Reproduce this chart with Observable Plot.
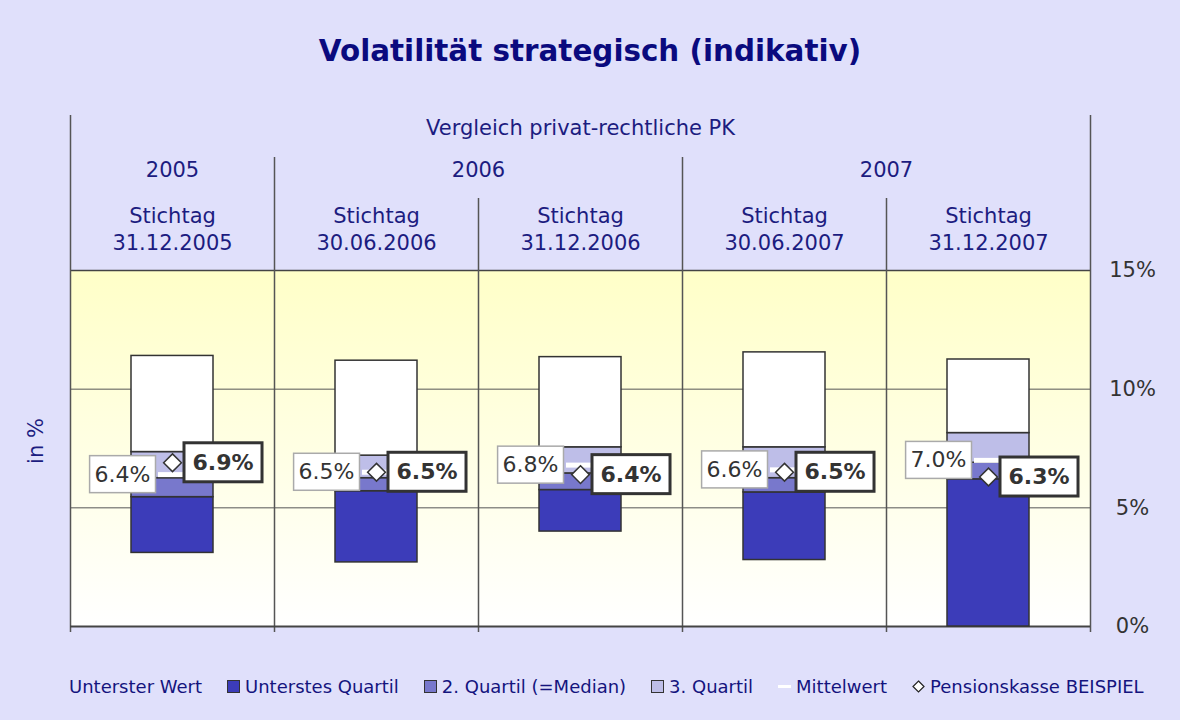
<!DOCTYPE html>
<html><head><meta charset="utf-8">
<script src="https://cdn.jsdelivr.net/npm/d3@7"></script>
<script src="https://cdn.jsdelivr.net/npm/@observablehq/plot@0.6"></script>
<style>
html,body{margin:0;padding:0;background:#e0e0fb;width:1180px;height:720px;overflow:hidden;font-family:"DejaVu Sans",Verdana,sans-serif;}
#title{position:absolute;left:0;width:1180px;top:34px;text-align:center;font-weight:bold;font-size:29.4px;color:#0a0a7e;}
#chart{position:absolute;left:0;top:100px;}
#ylab{position:absolute;left:36px;top:441px;transform:translate(-50%,-50%) rotate(-90deg);font-size:21px;color:#1c1c80;white-space:nowrap;}
#legend{position:absolute;left:69px;top:676px;display:flex;gap:25px;font-size:18px;color:#14147e;white-space:nowrap;align-items:center;}
#legend .item{display:flex;align-items:center;gap:5px;}
#legend svg{display:block;}
</style>
</head><body>
<div id="title"></div>
<div id="chart"></div>
<div id="ylab"></div>
<div id="legend"></div>
<script>
// ---- data ----
const titleText = "Volatilität strategisch (indikativ)";
const groupTitle = "Vergleich privat-rechtliche PK";
const yAxisLabel = "in %";
const dates = ["31.12.2005", "30.06.2006", "31.12.2006", "30.06.2007", "31.12.2007"];
const stichtag = "Stichtag";
const years = ["2005", "2006", "2007"];
const yearSpans = [[0, 1], [1, 3], [3, 5]];
const minVals    = [3.1, 2.7, 4.0, 2.8, 0.0];
const q1Vals     = [5.45, 5.7, 5.75, 5.65, 6.2];
const medianVals = [6.25, 6.25, 6.45, 6.25, 6.9];
const q3Vals     = [7.35, 7.2, 7.55, 7.55, 8.15];
const maxVals    = [11.4, 11.2, 11.35, 11.55, 11.25];
const meanVals   = [6.4, 6.5, 6.8, 6.6, 7.0];
const pkVals     = [6.9, 6.5, 6.4, 6.5, 6.3];
const yTicks = [0, 5, 10, 15];
const seriesNames = ["Unterstes Quartil", "2. Quartil (=Median)", "3. Quartil", "Oberstes Quartil"];
const seriesColors = ["#3c3cb9", "#7878cc", "#bebee8", "#ffffff"];
const legendNames = ["Unterster Wert", "Unterstes Quartil", "2. Quartil (=Median)", "3. Quartil", "Mittelwert", "Pensionskasse BEISPIEL"];

// ---- derived tables ----
const n = dates.length;
const idx = d3.range(n);
const segs = [];
idx.forEach(i => {
  const b = [minVals[i], q1Vals[i], medianVals[i], q3Vals[i], maxVals[i]];
  for (let k = 0; k < 4; k++) segs.push({i, y1: b[k], y2: b[k + 1], s: seriesNames[k]});
});
const outerBounds = [0, n];
const yearBounds = yearSpans.map(s => s[0]).filter(b => b > 0);
const innerBounds = d3.range(1, n).filter(b => !yearBounds.includes(b));
const yearRows = years.map((y, k) => ({x: (yearSpans[k][0] + yearSpans[k][1]) / 2, t: y}));
const dateRows = idx.map(i => ({x: i + 0.5, t: stichtag + "\n" + dates[i]}));
const groupRows = [{x: n / 2, t: groupTitle}];

document.getElementById("title").textContent = titleText;
document.getElementById("ylab").textContent = yAxisLabel;

const navy = "#1c1c80";
const headerOpts = {x: "x", text: "t", frameAnchor: "top", lineAnchor: "middle", fontSize: 21, fill: navy};
const plot = Plot.plot({
  width: 1180,
  height: 546,
  marginTop: 170,
  marginBottom: 20,
  marginLeft: 70,
  marginRight: 90,
  style: {fontFamily: "'DejaVu Sans', Verdana, sans-serif", background: "transparent", overflow: "visible"},
  x: {domain: [0, n], axis: null},
  y: {domain: [0, 15], axis: null},
  color: {domain: seriesNames, range: seriesColors},
  marks: [
    Plot.frame({fill: "url(#bgGrad)", stroke: "none"}),
    Plot.ruleY([5, 10], {stroke: "#555", strokeWidth: 1}),
    Plot.ruleY([15], {stroke: "#444", strokeWidth: 1.5}),
    Plot.ruleX(outerBounds, {y1: 15, y2: 0, insetTop: -155, insetBottom: -6, stroke: "#555", strokeWidth: 1.5}),
    Plot.ruleX(yearBounds, {y1: 15, y2: 0, insetTop: -113, insetBottom: -6, stroke: "#555", strokeWidth: 1.5}),
    Plot.ruleX(innerBounds, {y1: 15, y2: 0, insetTop: -72, insetBottom: -6, stroke: "#555", strokeWidth: 1.5}),
    Plot.ruleY([0], {stroke: "#444", strokeWidth: 2}),
    Plot.text(groupRows, {...headerOpts, dy: -142}),
    Plot.text(yearRows, {...headerOpts, dy: -100}),
    Plot.text(dateRows, {...headerOpts, dy: -43, lineHeight: 1.29}),
    Plot.rect(segs, {x1: d => d.i, x2: d => d.i + 1, y1: "y1", y2: "y2", fill: "s", stroke: "#333", strokeWidth: 1.5, insetLeft: 61, insetRight: 61}),
    Plot.ruleY(idx, {x1: i => i, x2: i => i + 1, y: i => meanVals[i], insetLeft: 88, insetRight: 88, stroke: "#fff", strokeWidth: 5}),
    Plot.dot(idx, {x: i => i + 0.5, y: i => pkVals[i], symbol: "diamond2", r: 8, fill: "#fff", stroke: "#333", strokeWidth: 1.5}),
    Plot.text(idx, {x: i => i + 0.5, y: i => meanVals[i], text: i => meanVals[i].toFixed(1) + "%", textAnchor: "end", dx: -22, fontSize: 22, fill: "#333", ariaDescription: "mean-label"}),
    Plot.text(idx, {x: i => i + 0.5, y: i => pkVals[i], text: i => pkVals[i].toFixed(1) + "%", textAnchor: "start", dx: 20, fontSize: 22, fontWeight: "bold", fill: "#333", ariaDescription: "pk-label"}),
    Plot.axisY({anchor: "right", ticks: yTicks, tickFormat: d => d + "%", tickSize: 0, tickPadding: 42, textAnchor: "middle", fontSize: 21, fill: "#333", label: null})
  ]
});
document.getElementById("chart").appendChild(plot);

// gradient definition for plot background
const ns = "http://www.w3.org/2000/svg";
const defs = document.createElementNS(ns, "defs");
defs.innerHTML = '<linearGradient id="bgGrad" x1="0" y1="0" x2="0" y2="1"><stop offset="0" stop-color="#ffffc8"/><stop offset="1" stop-color="#ffffff"/></linearGradient>';
plot.insertBefore(defs, plot.firstChild);

// boxes behind labels
function boxLabels(label, padX, padY, stroke, sw) {
  plot.querySelectorAll(`g[aria-description="${label}"] text`).forEach(t => {
    const bb = t.getBBox();
    const r = document.createElementNS(ns, "rect");
    r.setAttribute("x", bb.x - padX);
    r.setAttribute("y", bb.y - padY);
    r.setAttribute("width", bb.width + 2 * padX);
    r.setAttribute("height", bb.height + 2 * padY);
    r.setAttribute("fill", "#fff");
    r.setAttribute("stroke", stroke);
    r.setAttribute("stroke-width", sw);
    if (t.getAttribute("transform")) r.setAttribute("transform", t.getAttribute("transform"));
    t.parentNode.insertBefore(r, t);
  });
}
boxLabels("mean-label", 5, 6, "#aaa", 1.5);
boxLabels("pk-label", 8.5, 7, "#333", 3);

// legend
const legend = document.getElementById("legend");
const sq = c => `<svg width="13" height="13"><rect x="0.5" y="0.5" width="12" height="12" fill="${c}" stroke="#333"/></svg>`;
const swatches = [
  null,
  sq(seriesColors[0]),
  sq(seriesColors[1]),
  sq(seriesColors[2]),
  `<svg width="13" height="13"><rect x="0" y="5" width="13" height="3" fill="#fff"/></svg>`,
  `<svg width="13" height="13"><path d="M6.5 1 L12 6.5 L6.5 12 L1 6.5 Z" fill="#fff" stroke="#222" stroke-width="1.2"/></svg>`
];
legendNames.forEach((name, k) => {
  const it = document.createElement("div");
  it.className = "item";
  it.innerHTML = (swatches[k] || "") + `<span>${name}</span>`;
  legend.appendChild(it);
});
</script>
</body></html>
